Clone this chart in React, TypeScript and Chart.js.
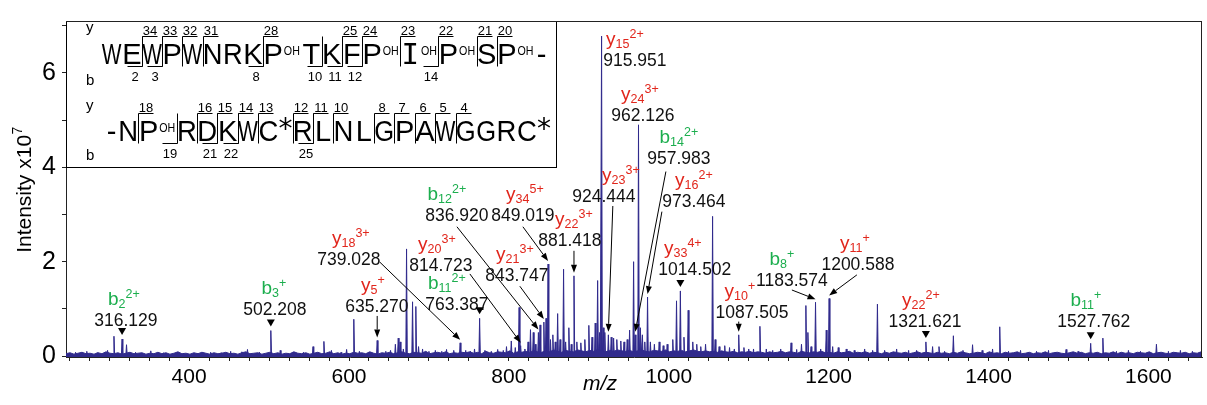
import React, { useEffect, useRef } from 'react';
import { Chart, registerables } from 'chart.js';

Chart.register(...registerables);

// ---------------- data ----------------
const mzMin = 246;
const mzMax = 1667;
const intensityMin = -0.02;
const intensityMax = 7.1;
const xTickLabels = [400, 600, 800, 1000, 1200, 1400, 1600];
const yTickLabels = [0, 2, 4, 6];

// centroid peaks (m/z, intensity ×10^7)
const peakMz = [
  258, 272, 285, 298, 306, 316.13, 321.7, 333, 352, 368, 385, 410, 427, 440, 452, 466, 473, 488,
  502.21, 514, 530, 543, 555, 568.6, 578, 590, 597, 606,
  613, 625, 635.27, 646, 652, 658, 661.6, 664, 668, 672, 679.5, 683.6, 687, 692, 700,
  708, 716, 722, 731, 739.03, 746, 752, 757, 763.39, 770, 778, 786, 793, 797,
  803, 808, 812.8, 814.72, 820, 824, 827, 830.5, 833, 836.92, 839, 843.75, 846.5, 849.02, 852, 855, 858,
  861, 864, 868.4, 871, 875, 878, 881.42, 885, 890, 895, 900, 904,
  908, 911, 913.5, 915.95, 918, 920, 924.44, 928, 931, 935, 940, 944, 948, 951, 956, 957.98, 962.13,
  964.5, 967, 970, 973.46, 977, 982, 988, 993, 998,
  1005, 1009.7, 1014.5, 1019, 1024.3, 1030, 1035, 1040, 1046, 1054.8, 1058, 1063, 1070, 1076, 1082,
  1087.5, 1094, 1100,
  1106, 1114, 1122, 1130, 1140, 1153, 1160, 1166, 1171.5, 1174, 1178, 1183.57, 1190, 1197, 1200.59, 1205,
  1212, 1222, 1232, 1245, 1255, 1261, 1270, 1285, 1300,
  1310, 1321.62, 1330, 1338, 1345, 1356, 1368, 1380, 1392, 1405, 1414, 1425, 1440, 1460, 1475, 1497,
  1512, 1527.76, 1543, 1560, 1575, 1590, 1610, 1625, 1640, 1655,
];
const peakIntensity = [
  0.08, 0.1, 0.07, 0.12, 0.42, 0.36, 0.24, 0.08, 0.11, 0.07, 0.08, 0.06, 0.08, 0.07, 0.1, 0.09, 0.14, 0.08,
  0.54, 0.12, 0.07, 0.08, 0.2, 0.31, 0.12, 0.08, 0.14, 0.78,
  0.1, 0.08, 0.33, 0.1, 0.12, 0.25, 0.38, 0.3, 0.15, 2.27, 1.15, 1.05, 0.2, 0.15, 0.1,
  0.12, 0.1, 0.14, 0.12, 0.28, 0.12, 0.1, 0.15, 0.8, 0.12, 0.1, 0.14, 0.12, 0.2,
  0.32, 0.18, 1.03, 0.22, 0.15, 0.3, 0.56, 0.5, 0.25, 0.5, 0.66, 0.72, 0.8, 1.95, 0.35, 0.45, 0.3,
  0.9, 0.35, 1.84, 0.3, 0.6, 0.25, 1.7, 0.3, 0.28, 0.35, 0.65, 0.4,
  0.7, 1.6, 0.5, 6.78, 0.6, 0.5, 0.45, 0.4, 0.38, 0.35, 0.32, 0.3, 0.35, 0.55, 2.0, 0.45, 4.9,
  0.6, 0.45, 0.3, 1.25, 0.3, 0.25, 0.3, 0.22, 0.25,
  0.35, 1.17, 1.38, 0.4, 0.97, 0.3, 0.25, 0.2, 0.25, 2.96, 0.35, 0.2, 0.22, 0.18, 0.15,
  0.45, 0.18, 0.15,
  0.15, 0.63, 0.15, 0.12, 0.15, 0.28, 0.14, 0.25, 1.07, 0.5, 0.2, 1.14, 0.15, 0.55, 1.22, 0.2,
  0.18, 0.15, 0.12, 0.15, 0.12, 1.1, 0.12, 0.15, 0.12,
  0.12, 0.3, 0.2, 0.2, 0.1, 0.43, 0.12, 0.24, 0.12, 0.15, 0.62, 0.1, 0.12, 0.1, 0.12, 0.14,
  0.1, 0.27, 0.38, 0.1, 0.12, 0.1, 0.25, 0.1, 0.12, 0.1,
];

// baseline noise, sampled every noiseStepMz from noiseStartMz (units: 0.01 ×10^7)
const noiseStartMz = 246;
const noiseStepMz = 5;
const noiseLevel = [
  5, 7, 4, 6, 8, 5, 6, 4, 7, 5, 9, 6, 5, 7, 4, 6, 8, 5, 6, 7,
  4, 6, 5, 8, 5, 7, 4, 6, 9, 5, 6, 4, 7, 5, 8, 6, 4, 7, 5, 6,
  8, 5, 6, 4, 7, 9, 5, 6, 7, 4, 6, 8, 5, 7, 4, 6, 5, 9, 6, 5,
  7, 4, 6, 8, 5, 6, 9, 5, 7, 4, 6, 5, 8, 6, 7, 5, 9, 6, 4, 7,
  6, 8, 5, 7, 9, 6, 5, 8, 7, 6, 10, 5, 7, 8, 6, 9, 5, 7, 6, 8,
  7, 9, 6, 8, 5, 10, 7, 6, 9, 8, 7, 11, 6, 9, 8, 10, 7, 12, 9, 8,
  11, 9, 13, 10, 8, 12, 10, 9, 13, 11, 9, 12, 10, 14, 11, 9, 12, 10, 13, 11,
  10, 12, 9, 11, 13, 10, 9, 12, 11, 10, 13, 9, 11, 10, 12, 9, 11, 13, 10, 9,
  11, 9, 10, 8, 11, 9, 8, 10, 7, 9, 8, 10, 7, 9, 8, 6, 9, 7, 8, 10,
  7, 9, 8, 6, 10, 8, 7, 9, 8, 10, 7, 8, 6, 9, 7, 8, 10, 6, 8, 7,
  9, 6, 8, 7, 5, 8, 6, 9, 7, 6, 8, 5, 7, 9, 6, 8, 7, 5, 8, 6,
  7, 5, 8, 6, 9, 7, 5, 6, 8, 7, 5, 9, 6, 7, 5, 8, 6, 7, 9, 5,
  6, 8, 5, 7, 6, 9, 5, 7, 8, 6, 5, 7, 9, 6, 8, 5, 7, 6, 8, 5,
  7, 6, 9, 5, 8, 6, 7, 5, 8, 7, 6, 9, 5, 7, 8, 6, 5, 8, 7, 6,
  8, 5, 7, 6, 9,
];

// peptide sequence for the inset
const sequence = ['W', 'E', 'W', 'P', 'W', 'N', 'R', 'K', 'P', 'T', 'K', 'F', 'P', 'I', 'P', 'S', 'P',
  'N', 'P', 'R', 'D', 'K', 'W', 'C', 'R', 'L', 'N', 'L', 'G', 'P', 'A', 'W', 'G', 'G', 'R', 'C'];
const rowSplit = 17;
const hydroxylated = [9, 13, 14, 15, 17, 19];
const starred = [24, 36];
const yIons = [34, 33, 32, 31, 28, 25, 24, 23, 22, 21, 20, 18, 16, 15, 14, 13, 12, 11, 10, 8, 7, 6, 5, 4];
const bIons = [2, 3, 8, 10, 11, 12, 14, 19, 21, 22, 25];

// annotated fragment ions
const ionNames = ['b', 'b', 'y', 'y', 'y', 'b', 'b', 'y', 'y', 'y', 'y', 'y', 'y', 'b', 'y', 'y', 'y', 'b', 'y', 'y', 'b'];
const ionSub = ['2', '3', '5', '18', '20', '11', '12', '34', '21', '22', '23', '15', '24', '14', '16', '33', '10', '8', '11', '22', '11'];
const ionCharge = ['2+', '+', '+', '3+', '3+', '2+', '2+', '5+', '3+', '3+', '3+', '2+', '3+', '2+', '2+', '4+', '+', '+', '+', '2+', '+'];
const ionMzText = ['316.129', '502.208', '635.270', '739.028', '814.723', '763.387', '836.920', '849.019', '843.747',
  '881.418', '924.444', '915.951', '962.126', '957.983', '973.464', '1014.502', '1087.505', '1183.574', '1200.588',
  '1321.621', '1527.762'];
const ionPeakMz = [316.13, 502.21, 635.27, 739.03, 814.72, 763.39, 836.92, 849.02, 843.75, 881.42, 924.44, 915.95,
  962.13, 957.98, 973.46, 1014.5, 1087.5, 1183.57, 1200.59, 1321.62, 1527.76];

// label layout (label anchor in data coordinates, marker style, arrow start in data coordinates)
const labelLayout: { at: [number, number]; dx: number; mark: 'tri' | 'arrow' | 'none'; from?: [number, number] }[] = [
  { at: [320.9, 0.63], dx: -2, mark: 'tri' },
  { at: [507.3, 0.87], dx: -1, mark: 'tri' },
  { at: [634.8, 0.93], dx: -4, mark: 'arrow', from: [635.27, 0.85] },
  { at: [599.8, 1.93], dx: 2, mark: 'arrow', from: [638.6, 1.99] },
  { at: [714.9, 1.8], dx: -4, mark: 'arrow', from: [751.2, 1.74] },
  { at: [734.9, 0.97], dx: -10, mark: 'tri' },
  { at: [734.9, 2.86], dx: -10, mark: 'arrow', from: [735.0, 2.74] },
  { at: [817.5, 2.86], dx: 2, mark: 'arrow', from: [817.5, 2.74] },
  { at: [810.0, 1.58], dx: -2, mark: 'arrow', from: [813.7, 1.48] },
  { at: [876.3, 2.33], dx: 4, mark: 'arrow', from: [881.42, 2.23] },
  { at: [918.8, 3.27], dx: 17, mark: 'arrow', from: [930.0, 3.18] },
  { at: [957.6, 6.15], dx: -10, mark: 'none' },
  { at: [967.6, 4.99], dx: -3, mark: 'none' },
  { at: [1012.6, 4.08], dx: 0, mark: 'arrow', from: [996.4, 3.91] },
  { at: [1031.4, 3.16], dx: 0, mark: 'arrow', from: [991.4, 3.06] },
  { at: [1032.6, 1.72], dx: -12, mark: 'tri' },
  { at: [1104.0, 0.81], dx: -12, mark: 'arrow', from: [1087.5, 0.73] },
  { at: [1154.0, 1.48], dx: -10, mark: 'arrow', from: [1154.0, 1.4] },
  { at: [1236.6, 1.83], dx: -3, mark: 'arrow', from: [1235.3, 1.72] },
  { at: [1320.4, 0.61], dx: -4, mark: 'tri' },
  { at: [1531.7, 0.61], dx: -8, mark: 'tri' },
];

// ---------------- styles ----------------
const SANS = "'Liberation Sans', Arial, Helvetica, sans-serif";
const INK = '#302a8c';
const RED = '#e1261c';
const GREEN = '#1cae4e';
const AXIS = '#222';

function line(ctx: CanvasRenderingContext2D, x1: number, y1: number, x2: number, y2: number) {
  ctx.beginPath();
  ctx.moveTo(x1, y1);
  ctx.lineTo(x2, y2);
  ctx.stroke();
}

function drawArrow(ctx: CanvasRenderingContext2D, x1: number, y1: number, x2: number, y2: number) {
  const ang = Math.atan2(y2 - y1, x2 - x1);
  const len = 8, hw = 3;
  const bx = x2 - Math.cos(ang) * len, by = y2 - Math.sin(ang) * len;
  line(ctx, x1, y1, bx, by);
  ctx.beginPath();
  ctx.moveTo(x2, y2);
  ctx.lineTo(bx + Math.sin(ang) * hw, by - Math.cos(ang) * hw);
  ctx.lineTo(bx - Math.sin(ang) * hw, by + Math.cos(ang) * hw);
  ctx.closePath();
  ctx.fill();
}

function drawIon(ctx: CanvasRenderingContext2D, cx: number, base: number, ion: string, sub: string, sup: string, color: string) {
  const big = `19px ${SANS}`;
  const small = `12.5px ${SANS}`;
  ctx.font = big;
  const w1 = ctx.measureText(ion).width;
  ctx.font = small;
  const w2 = ctx.measureText(sub).width;
  const w3 = ctx.measureText(sup).width;
  let x = cx - (w1 + w2 + w3) / 2;
  ctx.fillStyle = color;
  ctx.textAlign = 'left';
  ctx.font = big;
  ctx.fillText(ion, x, base);
  x += w1;
  ctx.font = small;
  ctx.fillText(sub, x, base + 3);
  ctx.fillText(sup, x + w2, base - 7);
}

function drawInset(ctx: CanvasRenderingContext2D, left: number, top: number) {
  const right = 557, bottom = 168;
  ctx.fillStyle = '#fff';
  ctx.fillRect(left, top, right - left, bottom - top);
  ctx.strokeStyle = '#000';
  ctx.lineWidth = 1;
  ctx.strokeRect(left + 0.5, top + 0.5, right - left - 1, bottom - top - 1);

  const letterFont = `29px ${SANS}`;
  const monoFont = `29px 'DejaVu Sans Mono', monospace`;
  const modFont = `12px ${SANS}`;
  const starFont = `28px 'DejaVu Sans', sans-serif`;
  const rows = [
    { from: 1, to: rowSplit, lead: false, trail: true, x0: 101.5, x1: 548, base: 64, barTop: 36.5, barBot: 66.5, yLab: 32, bLab: 85 },
    { from: rowSplit + 1, to: sequence.length, lead: true, trail: false, x0: 105, x1: 551, base: 141, barTop: 113.5, barBot: 143.5, yLab: 110, bLab: 160 },
  ];
  const dashCell = 13, ohCell = 18, starCell = 14;
  const cleave: Record<number, { x: number; row: typeof rows[0] }> = {};
  ctx.textBaseline = 'alphabetic';
  ctx.fillStyle = '#000';
  for (const row of rows) {
    const items: { res: number | null }[] = [];
    if (row.lead) items.push({ res: null });
    for (let r = row.from; r <= row.to; r++) items.push({ res: r });
    if (row.trail) items.push({ res: null });
    let fixed = 0, n = 0;
    for (const it of items) {
      if (it.res === null) fixed += dashCell;
      else {
        n++;
        if (hydroxylated.includes(it.res)) fixed += ohCell;
        if (starred.includes(it.res)) fixed += starCell;
      }
    }
    const cell = (row.x1 - row.x0 - fixed) / n;
    let cur = row.x0;
    for (const it of items) {
      ctx.textAlign = 'center';
      if (it.res === null) {
        ctx.font = letterFont;
        ctx.fillText('-', cur + dashCell / 2, row.base);
        cur += dashCell;
        continue;
      }
      const ch = sequence[it.res - 1];
      ctx.font = ch === 'I' ? monoFont : letterFont;
      ctx.fillText(ch, cur + cell / 2, row.base, cell - 0.5);
      cur += cell;
      if (hydroxylated.includes(it.res)) {
        ctx.font = modFont;
        ctx.textAlign = 'left';
        ctx.fillText('OH', cur + 0.5, row.base - 9, ohCell - 2);
        cur += ohCell;
      }
      if (starred.includes(it.res)) {
        ctx.font = starFont;
        ctx.textAlign = 'left';
        ctx.fillText('*', cur, row.base - 3);
        cur += starCell;
      }
      cleave[it.res] = { x: Math.round(cur) + 0.5, row };
    }
    ctx.font = `15px ${SANS}`;
    ctx.textAlign = 'left';
    ctx.fillText('y', 86, row.yLab);
    ctx.fillText('b', 86, row.bLab);
  }
  ctx.strokeStyle = '#000';
  ctx.lineWidth = 1;
  ctx.font = `13px ${SANS}`;
  ctx.textAlign = 'center';
  ctx.fillStyle = '#000';
  for (const n of yIons) {
    const c = cleave[sequence.length - n];
    if (!c) continue;
    line(ctx, c.x, c.row.barTop, c.x, c.row.barBot);
    line(ctx, c.x, c.row.barTop, c.x + 15, c.row.barTop);
    ctx.fillText(String(n), c.x + 7.5, c.row.barTop - 2);
  }
  for (const n of bIons) {
    const c = cleave[n];
    if (!c) continue;
    line(ctx, c.x, c.row.barTop, c.x, c.row.barBot);
    line(ctx, c.x - 15, c.row.barBot, c.x, c.row.barBot);
    ctx.fillText(String(n), c.x - 7.5, c.row.barBot + 14);
  }
}

const overlayPlugin = {
  id: 'overlay',
  afterDraw(chart: any) {
    const { ctx, chartArea: ca } = chart;
    const xs = chart.scales.x, ys = chart.scales.y;
    ctx.save();

    const peakTop = (mz: number): [number, number] => {
      let best = 0;
      for (let i = 1; i < peakMz.length; i++) if (Math.abs(peakMz[i] - mz) < Math.abs(peakMz[best] - mz)) best = i;
      return [xs.getPixelForValue(peakMz[best]), ys.getPixelForValue(peakIntensity[best])];
    };

    // annotations
    ctx.lineWidth = 1;
    ctx.strokeStyle = '#000';
    for (let i = 0; i < ionMzText.length; i++) {
      const L = labelLayout[i];
      const cx = xs.getPixelForValue(L.at[0]);
      const bl = ys.getPixelForValue(L.at[1]);
      ctx.font = `17.5px ${SANS}`;
      ctx.textAlign = 'center';
      ctx.textBaseline = 'alphabetic';
      ctx.fillStyle = '#111';
      ctx.fillText(ionMzText[i], cx, bl);
      drawIon(ctx, cx + L.dx, bl - 21, ionNames[i], ionSub[i], ionCharge[i], ionNames[i] === 'y' ? RED : GREEN);
      const [px, py] = peakTop(ionPeakMz[i]);
      ctx.fillStyle = '#000';
      if (L.mark === 'tri') {
        const ty = py - 4;
        ctx.beginPath();
        ctx.moveTo(px - 4, ty - 7);
        ctx.lineTo(px + 4, ty - 7);
        ctx.lineTo(px, ty);
        ctx.closePath();
        ctx.fill();
      } else if (L.mark === 'arrow' && L.from) {
        const sx = xs.getPixelForValue(L.from[0]);
        const sy = ys.getPixelForValue(L.from[1]);
        drawArrow(ctx, sx, sy, px, py - 3);
      }
    }

    // inset with sequence
    drawInset(ctx, ca.left, ca.top);

    // frame (top and right)
    ctx.strokeStyle = AXIS;
    ctx.lineWidth = 1;
    const r = Math.round(ca.right) - 0.5;
    const t = Math.round(ca.top) + 0.5;
    line(ctx, ca.left, t, r + 0.5, t);
    line(ctx, r, ca.top, r, ca.bottom);

    // axis titles
    ctx.fillStyle = '#000';
    ctx.textBaseline = 'alphabetic';
    ctx.save();
    ctx.translate(31, 190);
    ctx.rotate(-Math.PI / 2);
    ctx.font = `21px ${SANS}`;
    const main = 'Intensity x10';
    const wMain = ctx.measureText(main).width;
    ctx.font = `14px ${SANS}`;
    const wSup = ctx.measureText('7').width;
    const start = -(wMain + wSup) / 2;
    ctx.font = `21px ${SANS}`;
    ctx.textAlign = 'left';
    ctx.fillText(main, start, 0);
    ctx.font = `14px ${SANS}`;
    ctx.fillText('7', start + wMain + 0.5, -9);
    ctx.restore();

    ctx.font = `italic 21px ${SANS}`;
    ctx.textAlign = 'center';
    ctx.fillText('m/z', 600, 390);

    ctx.restore();
  },
};

export default function App() {
  const ref = useRef<HTMLCanvasElement>(null);
  useEffect(() => {
    if (!ref.current) return;
    const peaksData: { x: number; y: number }[] = [];
    peakMz.forEach((m, i) => {
      peaksData.push({ x: m - 0.9, y: 0 }, { x: m, y: peakIntensity[i] }, { x: m + 0.9, y: 0 });
    });
    const noiseData = noiseLevel.map((v, i) => ({ x: noiseStartMz + i * noiseStepMz, y: v / 100 }));
    const chart = new Chart(ref.current, {
      type: 'line',
      data: {
        datasets: [
          {
            data: noiseData,
            borderColor: INK,
            backgroundColor: INK,
            borderWidth: 1,
            pointRadius: 0,
            fill: 'start',
            tension: 0,
            borderJoinStyle: 'bevel',
          },
          {
            data: peaksData,
            borderColor: INK,
            backgroundColor: INK,
            borderWidth: 1,
            pointRadius: 0,
            fill: 'origin',
            tension: 0,
            borderJoinStyle: 'bevel',
          },
        ],
      },
      options: {
        responsive: false,
        animation: false,
        events: [],
        layout: { padding: { top: 6, right: 5, left: 0, bottom: 0 } },
        plugins: { legend: { display: false }, tooltip: { enabled: false } },
        scales: {
          x: {
            type: 'linear',
            min: mzMin,
            max: mzMax,
            afterFit: (s: any) => { s.height = 48; },
            grid: { drawOnChartArea: false, drawTicks: true, tickLength: 4, color: AXIS },
            border: { display: true, color: AXIS, width: 1 },
            ticks: {
              stepSize: 25,
              autoSkip: false,
              maxRotation: 0,
              includeBounds: false,
              padding: 4,
              color: '#000',
              font: { family: SANS, size: 21 },
              callback: (v: any) => (xTickLabels.includes(Number(v)) ? String(v) : ''),
            },
          },
          y: {
            type: 'linear',
            min: intensityMin,
            max: intensityMax,
            afterFit: (s: any) => { s.width = 66; },
            grid: { drawOnChartArea: false, drawTicks: true, tickLength: 4, color: AXIS },
            border: { display: true, color: AXIS, width: 1 },
            ticks: {
              stepSize: 1,
              includeBounds: false,
              padding: 6,
              color: '#000',
              font: { family: SANS, size: 25 },
              callback: (v: any) => (yTickLabels.includes(Number(v)) ? String(v) : ''),
            },
          },
        },
      },
      plugins: [overlayPlugin],
    } as any);
    return () => chart.destroy();
  }, []);
  return (
    <div style={{ position: 'fixed', left: 0, top: 0, width: 1207, height: 405, background: '#fff' }}>
      <canvas ref={ref} width={1207} height={405} style={{ display: 'block' }} />
    </div>
  );
}
